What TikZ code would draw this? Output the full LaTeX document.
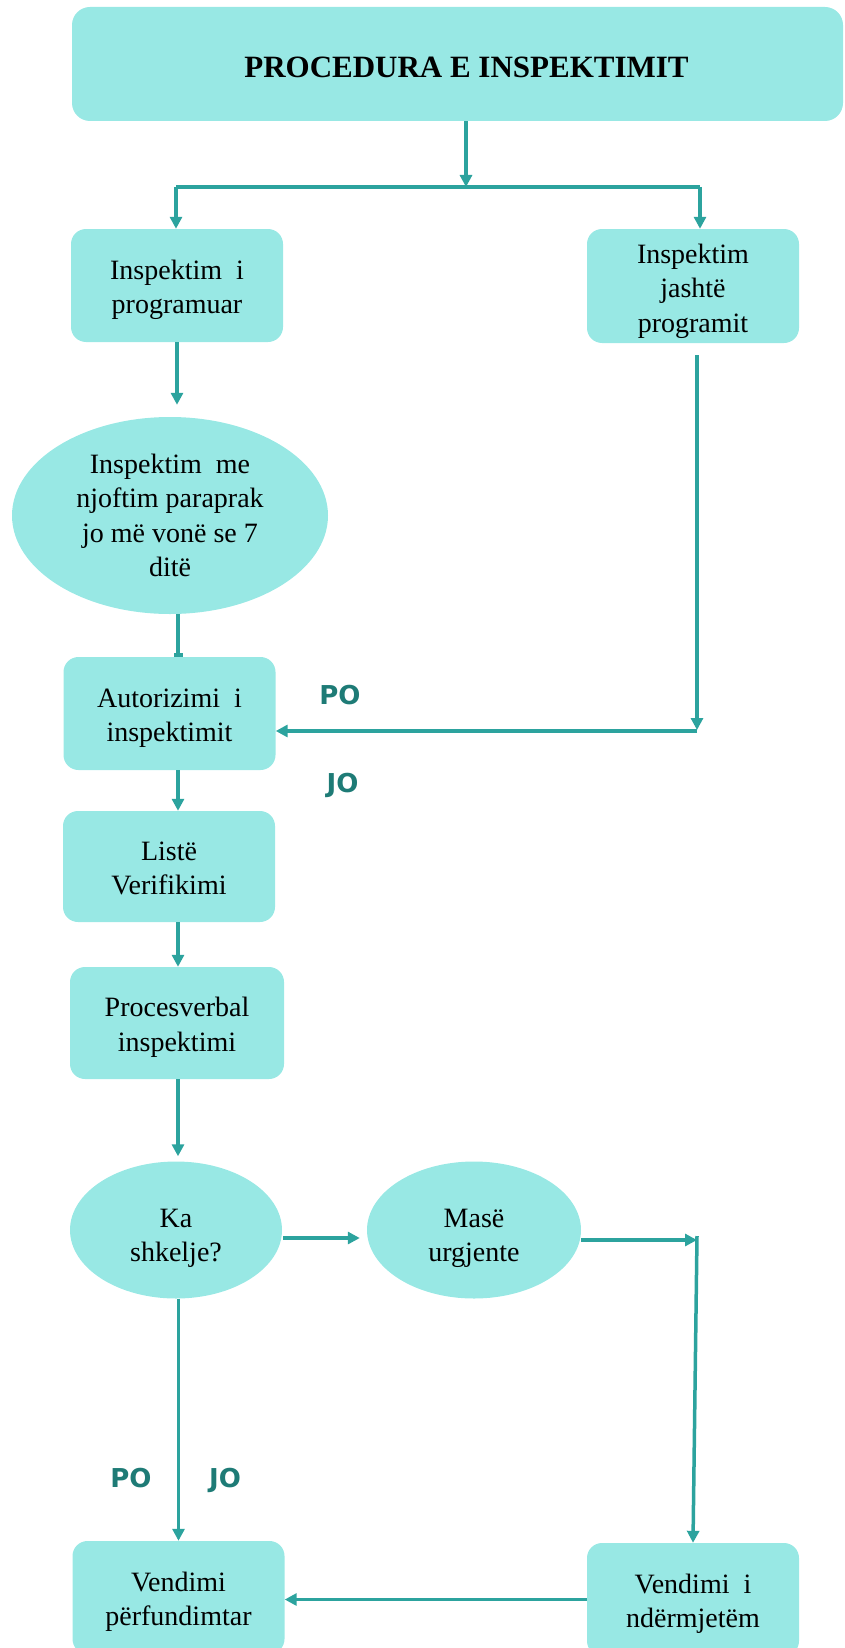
\documentclass[tikz,border=0pt]{standalone}
\usepackage{fontspec}
\setmainfont{Liberation Serif}
\newfontfamily\lblfont{DejaVu Sans}
\usetikzlibrary{arrows.meta,shapes.geometric}
\definecolor{boxfill}{HTML}{98E8E4}
\definecolor{flow}{HTML}{2CA39E}
\definecolor{lblcol}{HTML}{1E7B76}
\tikzset{
  box/.style={draw=none,fill=boxfill,rounded corners=15pt,align=center,
    minimum width=212pt,minimum height=113pt,inner sep=2pt,
    text height=56pt,text depth=0pt,
    font=\fontsize{28}{34.5}\selectfont},
  oval/.style={ellipse,draw=none,fill=boxfill,align=center,inner sep=0pt,
    font=\fontsize{28}{34.5}\selectfont},
  line/.style={draw=flow,line width=3.5pt},
  arr/.style={line,-{Triangle[length=12pt,width=12pt]}},
  lbl/.style={text=lblcol,font=\lblfont\bfseries\fontsize{26}{30}\selectfont}
}
\begin{document}
\begin{tikzpicture}[x=1pt,y=-1pt]
\useasboundingbox (0,0) rectangle (845,1648);
\node[box,rounded corners=18pt,minimum width=771pt,minimum height=114pt,text height=27pt,
  font=\bfseries\fontsize{31}{36}\selectfont] (title) at (457.5,64) {\hspace*{18pt}PROCEDURA E INSPEKTIMIT};
\node[box] (prog) at (177,285.5) {Inspektim\ \ i\\programuar};
\node[box,minimum height=114pt,text height=92.5pt] (jasht) at (693,286) {Inspektim\\jashtë\\programit};
\node[oval,minimum width=316pt,minimum height=197pt] (njoftim) at (170,515.5)
  {Inspektim\ \ me\\njoftim\ paraprak\\jo më vonë se 7\\ditë};
\node[box] (auth) at (169.5,713.5) {Autorizimi\ \ i\\inspektimit};
\node[box,minimum height=111pt] (liste) at (169,866.5) {Listë\\Verifikimi};
\node[box,minimum width=214pt,minimum height=112pt] (proc) at (177,1023) {Procesverbal\\inspektimi};
\node[oval,minimum width=212pt,minimum height=137pt,text height=63pt,text depth=0pt] (ka) at (176,1230) {Ka\\shkelje?};
\node[oval,minimum width=214pt,minimum height=137pt,text height=63pt,text depth=0pt] (mase) at (474,1230) {Masë\\urgjente};
\node[box] (vend) at (178.5,1597.5) {Vendimi\\përfundimtar};
\node[box] (ndm) at (693,1599.5) {Vendimi\ \ i\\ndërmjetëm};
% labels
\node[lbl] (po1) at (340,695) {PO};
\node[lbl] (jo1) at (342.5,785) {JO};
\node[lbl] (po2) at (131,1478) {PO};
\node[lbl] (jo2) at (225,1480) {JO};
% split under the title
\coordinate (split) at (466,187);
\coordinate (lsplit) at (176,187);
\coordinate (rsplit) at (700,187);
\coordinate (col) at (178,0);
\coordinate (rjoin) at (697,731);
\coordinate (mjoin) at (697,1236);
\draw[arr] (title.south -| split) -- (split);
\draw[line] (lsplit) -- (rsplit);
\draw[arr] (lsplit) -- (lsplit |- prog.north);
\draw[arr] (rsplit) -- (rsplit |- jasht.north);
% left column
\draw[arr,shorten >=12pt] (prog.south) -- (prog.south |- njoftim.north);
\draw[line,-{Bar[width=9pt]}] (njoftim.south -| col) -- (auth.north -| col);
\draw[arr] (auth.south -| col) -- (liste.north -| col);
\draw[arr] (liste.south -| col) -- (proc.north -| col);
\draw[arr,shorten >=5pt] (proc.south -| col) -- (ka.north -| col);
\draw[arr] (ka.south -| vend.north) -- (vend.north);
% right side
\draw[arr] ([yshift=-12pt]jasht.south -| rjoin) -- ([yshift=1pt]rjoin);
\draw[arr] (rjoin) -- (auth.east |- rjoin);
\draw[arr,shorten <=1pt,shorten >=7pt] ([yshift=-8pt]ka.east) -- ([yshift=-8pt]mase.west);
\draw[arr] ([yshift=-10pt]mase.east) -- ([yshift=-10pt]mase.east -| mjoin);
\draw[line,-{Triangle[length=12pt,width=12pt]}] (mjoin) -- (ndm.north);
\draw[arr] (ndm.west) -- (vend.east |- ndm.west);
\end{tikzpicture}
\end{document}
